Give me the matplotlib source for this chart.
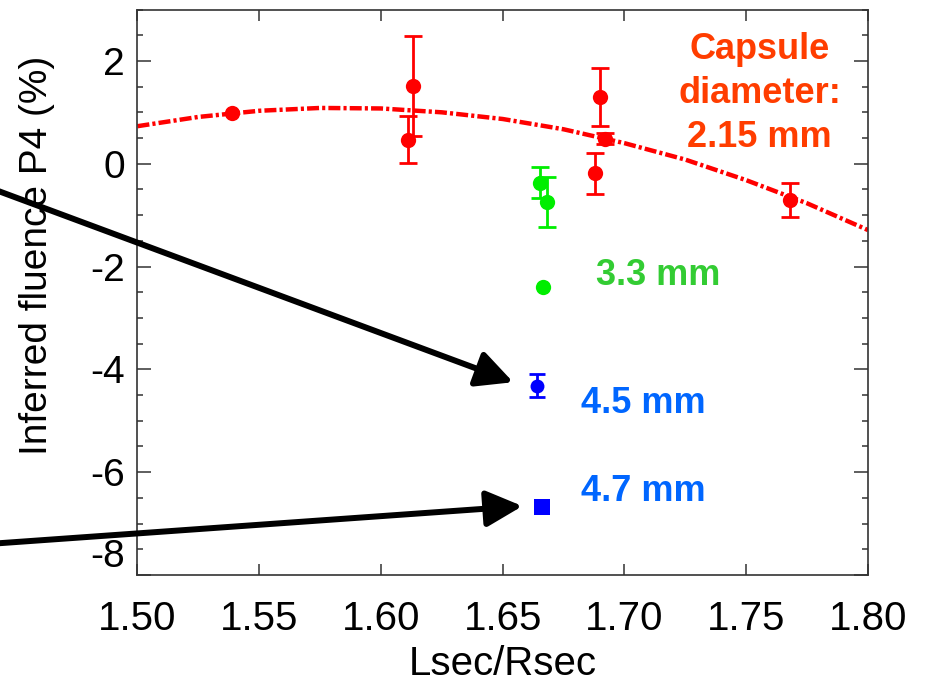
import matplotlib
matplotlib.use("Agg")
import matplotlib.pyplot as plt
import matplotlib.transforms as mtransforms
from matplotlib.ticker import MultipleLocator, FixedLocator
import numpy as np

plt.rcParams['font.family'] = ['Liberation Sans', 'DejaVu Sans']

# 2.15 mm capsules
red_x = [1.539, 1.613, 1.611, 1.690, 1.692, 1.688, 1.768]
red_y = [0.98, 1.51, 0.47, 1.30, 0.49, -0.19, -0.71]
red_err = [0.0, 0.97, 0.46, 0.57, 0.10, 0.40, 0.33]

# 3.3 mm capsules
green_x = [1.6655, 1.6680, 1.6666]
green_y = [-0.37, -0.75, -2.39]
green_err = [0.30, 0.49, 0.0]

# 4.5 mm capsule
blue45_x = [1.664]
blue45_y = [-4.32]
blue45_err = [0.22]

# 4.7 mm capsule
blue47_x = [1.666]
blue47_y = [-6.68]
blue47_err = [0.12]

# trend through the 2.15 mm shots
fit_x = [1.500, 1.525, 1.550, 1.575, 1.600, 1.625, 1.650,
         1.675, 1.700, 1.725, 1.750, 1.775, 1.800]
fit_y = [0.73, 0.91, 1.03, 1.085, 1.075, 1.00, 0.87,
         0.67, 0.40, 0.08, -0.32, -0.77, -1.29]

x_ticks = [1.50, 1.55, 1.60, 1.65, 1.70, 1.75, 1.80]
x_tick_labels = ['1.50', '1.55', '1.60', '1.65', '1.70', '1.75', '1.80']
y_ticks = [-8, -6, -4, -2, 0, 2]
y_tick_labels = ['-8', '-6', '-4', '-2', '0', '2']

RED = '#ff0000'
GREEN = '#00ee00'
BLUE = '#0000ff'

fig = plt.figure(figsize=(9.3, 6.84), dpi=100)
ax = fig.add_axes([0.1478, 0.1594, 0.7855, 0.8267])

ax.plot(fit_x, fit_y, color=RED, lw=3.2,
        linestyle=(0, (2.7, 0.7, 0.7, 0.7)), zorder=2)


def draw_series(xs, ys, errs, color, marker, ms, capsize=6.5):
    xs = np.asarray(xs)
    ys = np.asarray(ys)
    errs = np.asarray(errs)
    has_err = errs > 0
    if has_err.any():
        ax.errorbar(xs[has_err], ys[has_err], yerr=errs[has_err], fmt='none',
                    ecolor=color, elinewidth=2.0, capsize=capsize,
                    capthick=2.0, zorder=3)
    ax.plot(xs, ys, linestyle='none', marker=marker, ms=ms, color=color,
            markeredgewidth=0, zorder=4)


draw_series(red_x, red_y, red_err, RED, 'o', 11)
draw_series(green_x, green_y, green_err, GREEN, 'o', 11)
draw_series(blue45_x, blue45_y, blue45_err, BLUE, 'o', 10, capsize=5.5)
draw_series(blue47_x, blue47_y, blue47_err, BLUE, 's', 11, capsize=5.0)

ax.set_xlim(1.50, 1.80)
ax.set_ylim(-8, 3)

ax.xaxis.set_major_locator(FixedLocator(x_ticks))
ax.set_xticklabels(x_tick_labels)
ax.yaxis.set_major_locator(FixedLocator(y_ticks))
ax.set_yticklabels(y_tick_labels)
ax.yaxis.set_minor_locator(MultipleLocator(0.5))

for sp in ax.spines.values():
    sp.set_color('#333333')
    sp.set_linewidth(1.2)

ax.tick_params(axis='both', which='both', direction='in', top=True,
               right=True, color='#333333', width=1.1, labelcolor='black')
ax.tick_params(axis='x', which='major', length=8, pad=18, labelsize=29)
ax.tick_params(axis='y', which='major', length=10, pad=9, labelsize=28)
ax.tick_params(axis='y', which='minor', length=4.3)

# lift the bottom y label clear of the x tick labels
lab = ax.get_yticklabels()[0]
lab.set_transform(lab.get_transform() +
                  mtransforms.ScaledTranslation(0, 0.22, fig.dpi_scale_trans))

ax.set_xlabel('Lsec/Rsec', fontsize=29)
ax.xaxis.set_label_coords(0.5, -0.124)
ax.set_ylabel('Inferred fluence P4 (%)', fontsize=28, va='center')
ax.yaxis.set_label_coords(-0.1376, 0.566)

# labels for each capsule size
ax.text(1.7555, 0.317, 'Capsule\ndiameter:\n2.15 mm', color='#ff3d00',
        fontsize=26, fontweight='bold', ha='center', va='baseline',
        multialignment='center', linespacing=1.35, zorder=5)
ax.text(1.6883, -2.357, '3.3 mm', color='#33cc33', fontsize=26,
        fontweight='bold', ha='left', va='baseline', zorder=5)
ax.text(1.6823, -4.85, '4.5 mm', color='#0066ff', fontsize=26,
        fontweight='bold', ha='left', va='baseline', zorder=5)
ax.text(1.6823, -6.56, '4.7 mm', color='#0066ff', fontsize=26,
        fontweight='bold', ha='left', va='baseline', zorder=5)

# pointers to the large-capsule shots
arrow_style = dict(arrowstyle='-|>,head_length=1.1,head_width=0.55',
                   mutation_scale=20, lw=4.3, color='black',
                   shrinkA=0, shrinkB=0)
ax.annotate('', xy=(1.6543, -4.25), xycoords='data',
            xytext=(-0.03, 0.735), textcoords='figure fraction',
            arrowprops=arrow_style, annotation_clip=False, zorder=6)
ax.annotate('', xy=(1.6581, -6.66), xycoords='data',
            xytext=(-0.03, 0.203), textcoords='figure fraction',
            arrowprops=arrow_style, annotation_clip=False, zorder=6)

fig.savefig('out.png', dpi=100)
